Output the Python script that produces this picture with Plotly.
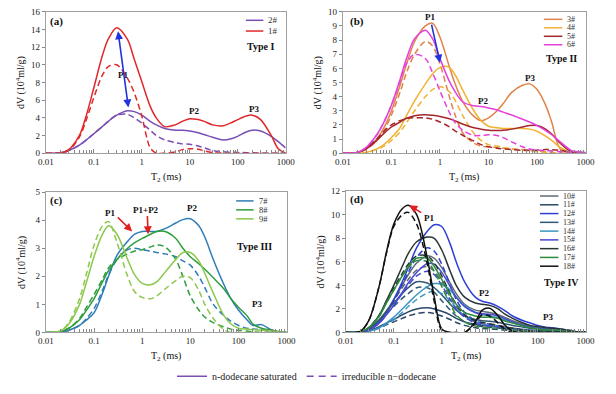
import math
import plotly.graph_objects as go

# ---------------- data ----------------
T2 = [0.01, 0.02, 0.03, 0.05, 0.07, 0.1, 0.15, 0.2, 0.3, 0.5, 0.7, 1, 1.5, 2, 3, 5, 7, 10,
      15, 20, 30, 50, 70, 100, 150, 200, 300, 500, 700, 1000]

# (a) Type I
A1_SAT = [0, 0, 0.4, 2.0, 4.3, 7.4, 11.0, 12.9, 14.2, 12.9, 10.6, 8.1, 5.3, 4.0, 3.0, 3.2, 3.6, 3.9,
          3.8, 3.6, 3.2, 3.1, 3.4, 3.8, 4.2, 4.3, 3.8, 2.0, 0.5, 0]
A1_IRR = [0, 0, 0.3, 1.8, 3.8, 6.3, 8.8, 9.8, 10.0, 8.5, 6.8, 4.2, 0.6, 0, 0, 0.15, 0.4, 0.5,
          0.45, 0.25, 0.05, 0, 0, 0, 0, 0, 0, 0, 0, 0]
A2_SAT = [0, 0.05, 0.3, 0.9, 1.5, 2.2, 3.0, 3.6, 4.3, 4.8, 4.7, 4.3, 3.6, 3.2, 2.8, 2.6, 2.6, 2.5,
          2.3, 2.1, 1.8, 1.5, 1.6, 1.9, 2.4, 2.6, 2.5, 1.9, 1.3, 0.6]
A2_IRR = [0, 0.05, 0.3, 0.9, 1.5, 2.2, 3.0, 3.6, 4.3, 4.4, 4.0, 3.4, 2.6, 2.0, 1.5, 1.2, 1.05, 1.0,
          0.8, 0.6, 0.3, 0.15, 0.1, 0.08, 0.05, 0.03, 0, 0, 0, 0]

# (b) Type II
B3_SAT = [0, 0.05, 0.3, 1.0, 1.8, 3.0, 4.8, 6.2, 7.9, 9.0, 9.2, 8.2, 6.3, 5.0, 3.6, 2.6, 2.3, 2.5,
          3.0, 3.5, 4.3, 4.8, 4.9, 4.5, 3.4, 2.2, 0.3, 0, 0, 0]
B3_IRR = [0, 0.05, 0.25, 0.9, 1.6, 2.7, 4.3, 5.6, 7.0, 7.9, 7.6, 6.3, 4.2, 2.8, 1.4, 0.7, 0.5, 0.45,
          0.4, 0.35, 0.3, 0.25, 0.2, 0.15, 0.1, 0.05, 0, 0, 0, 0]
B4_SAT = [0, 0, 0.05, 0.3, 0.6, 1.1, 1.8, 2.6, 3.7, 4.9, 5.6, 6.05, 6.1, 5.6, 4.4, 3.0, 2.3, 1.9,
          1.8, 1.75, 1.75, 1.75, 1.7, 1.55, 1.2, 0.9, 0.4, 0.05, 0, 0]
B4_IRR = [0, 0, 0.05, 0.25, 0.5, 0.9, 1.5, 2.1, 3.0, 4.0, 4.5, 4.7, 4.4, 3.8, 2.6, 1.4, 0.9, 0.6,
          0.5, 0.4, 0.3, 0.2, 0.15, 0.1, 0.05, 0, 0, 0, 0, 0]
B5_SAT = [0, 0.05, 0.3, 0.9, 1.4, 1.85, 2.2, 2.45, 2.65, 2.72, 2.68, 2.6, 2.45, 2.3, 2.05, 1.8, 1.7, 1.62,
          1.6, 1.62, 1.7, 1.85, 1.95, 1.95, 1.7, 1.35, 0.7, 0.1, 0, 0]
B5_IRR = [0, 0.05, 0.35, 1.0, 1.55, 2.0, 2.3, 2.45, 2.5, 2.5, 2.4, 2.2, 1.9, 1.6, 1.25, 0.85, 0.6, 0.45,
          0.35, 0.3, 0.25, 0.2, 0.2, 0.2, 0.25, 0.25, 0.2, 0.05, 0, 0]
B6_SAT = [0, 0.05, 0.4, 1.3, 2.2, 3.4, 5.2, 6.6, 8.1, 8.7, 8.1, 6.7, 5.2, 4.4, 3.6, 3.35, 3.3, 3.2,
          3.05, 2.9, 2.7, 2.4, 2.2, 1.95, 1.6, 1.3, 0.8, 0.2, 0.1, 0.05]
B6_IRR = [0, 0.05, 0.4, 1.3, 2.2, 3.4, 5.1, 6.3, 7.0, 6.7, 5.7, 4.4, 3.0, 2.2, 1.6, 1.25, 1.25, 1.3,
          1.25, 1.1, 0.8, 0.45, 0.3, 0.22, 0.18, 0.15, 0.1, 0.05, 0, 0]

# (c) Type III
C7_SAT = [0, 0.02, 0.08, 0.25, 0.45, 0.7, 1.4, 2.0, 2.75, 3.25, 3.5, 3.6, 3.6, 3.6, 3.7, 3.9, 4.02, 4.05,
          3.8, 3.4, 2.6, 1.7, 1.2, 0.8, 0.45, 0.25, 0.28, 0.08, 0.02, 0]
C7_IRR = [0, 0.02, 0.08, 0.25, 0.5, 0.85, 1.5, 2.05, 2.6, 2.95, 3.0, 2.95, 2.9, 2.85, 2.8, 2.7, 2.55, 2.4,
          2.0, 1.6, 1.0, 0.6, 0.4, 0.25, 0.15, 0.12, 0.1, 0.03, 0, 0]
C8_SAT = [0, 0.03, 0.15, 0.45, 0.8, 1.2, 1.8, 2.2, 2.6, 3.0, 3.2, 3.35, 3.5, 3.6, 3.6, 3.35, 3.0, 2.7,
          2.45, 2.25, 1.95, 1.55, 1.2, 0.9, 0.6, 0.3, 0.15, 0.08, 0.03, 0]
C8_IRR = [0, 0.03, 0.15, 0.5, 0.9, 1.35, 1.9, 2.3, 2.6, 2.8, 2.9, 2.95, 3.05, 3.12, 3.05, 2.6, 2.0, 1.3,
          0.8, 0.55, 0.35, 0.2, 0.12, 0.08, 0.05, 0.02, 0, 0, 0, 0]
C9_SAT = [0, 0.05, 0.3, 1.0, 1.8, 2.7, 3.5, 3.8, 3.5, 2.6, 2.05, 1.75, 1.7, 1.8, 2.15, 2.6, 2.85, 2.85,
          2.55, 2.1, 1.4, 0.6, 0.3, 0.15, 0.12, 0.1, 0.08, 0.05, 0.02, 0]
C9_IRR = [0, 0.05, 0.35, 1.2, 2.1, 3.1, 3.8, 3.95, 3.2, 2.0, 1.45, 1.25, 1.2, 1.3, 1.55, 1.85, 2.0, 1.95,
          1.5, 1.0, 0.5, 0.1, 0, 0, 0, 0, 0, 0, 0, 0]

# (d) Type IV
D10_SAT = [0, 0.03, 0.25, 1.0, 1.8, 2.8, 4.0, 4.9, 5.9, 6.5, 6.3, 5.5, 4.2, 3.3, 2.4, 1.9, 1.8, 1.7,
           1.5, 1.3, 1.0, 0.7, 0.5, 0.4, 0.3, 0.28, 0.25, 0.1, 0.03, 0]
D10_IRR = [0, 0.03, 0.25, 1.0, 1.8, 2.7, 3.8, 4.5, 5.3, 5.6, 5.2, 4.3, 3.0, 2.2, 1.4, 0.9, 0.75, 0.65,
           0.5, 0.4, 0.3, 0.2, 0.12, 0.08, 0.05, 0.03, 0, 0, 0, 0]
D11_SAT = [0, 0.02, 0.15, 0.5, 0.8, 1.1, 1.5, 1.75, 2.0, 2.1, 2.0, 1.8, 1.5, 1.2, 0.9, 0.7, 0.6, 0.55,
           0.5, 0.45, 0.35, 0.25, 0.2, 0.15, 0.12, 0.1, 0.08, 0.03, 0, 0]
D11_IRR = [0, 0.02, 0.12, 0.4, 0.65, 0.9, 1.2, 1.4, 1.6, 1.7, 1.6, 1.4, 1.1, 0.85, 0.6, 0.4, 0.33, 0.3,
           0.25, 0.2, 0.15, 0.1, 0.07, 0.05, 0.03, 0.02, 0, 0, 0, 0]
D12_SAT = [0, 0.02, 0.2, 0.9, 1.7, 2.8, 4.3, 5.5, 7.2, 8.6, 9.15, 9.0, 7.5, 6.0, 4.3, 3.0, 2.65, 2.5,
           2.2, 1.9, 1.4, 1.0, 0.8, 0.6, 0.45, 0.4, 0.3, 0.15, 0.05, 0]
D12_IRR = [0, 0.02, 0.2, 0.9, 1.7, 2.7, 4.1, 5.1, 6.4, 7.2, 6.9, 5.8, 4.0, 2.8, 1.7, 1.0, 0.8, 0.7,
           0.55, 0.45, 0.3, 0.2, 0.15, 0.1, 0.05, 0.03, 0, 0, 0, 0]
D13_SAT = [0, 0.05, 0.35, 1.1, 1.8, 2.5, 3.3, 3.8, 4.3, 4.2, 3.8, 3.2, 2.4, 1.9, 1.4, 1.1, 1.0, 0.95,
           0.85, 0.75, 0.6, 0.45, 0.35, 0.28, 0.22, 0.2, 0.15, 0.05, 0, 0]
D13_IRR = [0, 0.05, 0.35, 1.0, 1.6, 2.2, 2.9, 3.3, 3.8, 3.8, 3.4, 2.7, 1.9, 1.4, 0.9, 0.6, 0.5, 0.45,
           0.38, 0.3, 0.22, 0.15, 0.1, 0.07, 0.04, 0.02, 0, 0, 0, 0]
D14_SAT = [0, 0.01, 0.1, 0.4, 0.8, 1.3, 2.0, 2.5, 3.2, 3.9, 4.15, 4.1, 3.6, 3.0, 2.3, 1.7, 1.5, 1.4,
           1.25, 1.1, 0.85, 0.6, 0.45, 0.35, 0.28, 0.25, 0.2, 0.08, 0.02, 0]
D14_IRR = [0, 0.01, 0.1, 0.35, 0.7, 1.1, 1.7, 2.2, 2.8, 3.35, 3.5, 3.3, 2.7, 2.1, 1.4, 0.9, 0.7, 0.6,
           0.5, 0.4, 0.3, 0.2, 0.13, 0.08, 0.05, 0.03, 0, 0, 0, 0]
D15_SAT = [0, 0.02, 0.2, 0.8, 1.5, 2.3, 3.4, 4.2, 5.1, 5.85, 5.8, 5.1, 3.9, 3.0, 2.2, 1.7, 1.6, 1.55,
           1.4, 1.2, 0.9, 0.6, 0.45, 0.35, 0.25, 0.2, 0.15, 0.05, 0, 0]
D15_IRR = [0, 0.02, 0.2, 0.8, 1.5, 2.3, 3.3, 4.0, 4.8, 5.2, 4.9, 4.0, 2.8, 2.0, 1.3, 0.8, 0.65, 0.55,
           0.45, 0.35, 0.25, 0.15, 0.1, 0.07, 0.04, 0.02, 0, 0, 0, 0]
D16_SAT = [0, 0.05, 0.4, 1.5, 2.7, 4.0, 5.6, 6.7, 7.7, 8.1, 8.0, 7.0, 5.2, 4.0, 3.0, 2.5, 2.4, 2.3,
           2.0, 1.6, 1.2, 0.8, 0.6, 0.5, 0.4, 0.35, 0.3, 0.15, 0.05, 0]
D16_IRR = [0, 0.05, 0.4, 1.5, 2.6, 3.8, 5.0, 5.8, 6.5, 6.5, 5.9, 4.8, 3.3, 2.4, 1.5, 1.0, 0.85, 0.75,
           0.6, 0.5, 0.35, 0.2, 0.15, 0.1, 0.05, 0.03, 0, 0, 0, 0]
D17_SAT = [0, 0.05, 0.4, 1.4, 2.5, 3.6, 4.8, 5.6, 6.3, 6.3, 5.6, 4.5, 3.2, 2.4, 1.7, 1.4, 1.3, 1.3,
           1.2, 1.0, 0.8, 0.55, 0.4, 0.3, 0.22, 0.2, 0.15, 0.05, 0, 0]
D17_IRR = [0, 0.05, 0.4, 1.4, 2.5, 3.6, 4.8, 5.5, 6.1, 6.0, 5.2, 3.9, 2.4, 1.5, 0.9, 0.55, 0.45, 0.4,
           0.35, 0.3, 0.2, 0.12, 0.08, 0.05, 0.03, 0.02, 0, 0, 0, 0]
D18_SAT = [0, 0.1, 1.0, 4.0, 6.8, 9.2, 10.5, 10.8, 10.0, 6.3, 3.0, 0.3, 0, 0, 0, 0.9, 1.9, 2.05,
           1.4, 0.7, 0.1, 0, 0, 0, 0, 0, 0, 0, 0, 0]
D18_IRR = [0, 0.1, 1.0, 4.0, 6.7, 9.0, 10.0, 10.2, 9.2, 5.8, 2.6, 0.2, 0, 0, 0, 0.8, 1.5, 1.4,
           0.8, 0.3, 0, 0, 0, 0, 0, 0, 0, 0, 0, 0]

X_TICKS = [0.01, 0.1, 1, 10, 100, 1000]
X_TICK_TEXT = ["0.01", "0.1", "1", "10", "100", "1000"]

# ---------------- figure ----------------
W, H = 616, 394
FONT = "Liberation Serif, Times New Roman, serif"
PURPLE = "#7A4FB5"
DASH = "6px,3.5px"

fig = go.Figure()

def px(x, y):
    return x / W, 1 - y / H

def add(ax, name, y_sat, y_irr, color):
    xa = "x" if ax == 1 else f"x{ax}"
    ya = "y" if ax == 1 else f"y{ax}"
    fig.add_trace(go.Scatter(x=T2, y=y_irr, xaxis=xa, yaxis=ya, mode="lines", name=name + " irr",
                             line=dict(color=color, width=1.5, dash=DASH, shape="spline", smoothing=0.9),
                             showlegend=False, hoverinfo="skip"))
    fig.add_trace(go.Scatter(x=T2, y=y_sat, xaxis=xa, yaxis=ya, mode="lines", name=name,
                             line=dict(color=color, width=1.5, shape="spline", smoothing=0.9),
                             showlegend=False, hoverinfo="skip"))

panels = {
    1: [("2#", A2_SAT, A2_IRR, PURPLE), ("1#", A1_SAT, A1_IRR, "#E0282A")],
    2: [("3#", B3_SAT, B3_IRR, "#E0834A"), ("4#", B4_SAT, B4_IRR, "#F2B233"),
        ("5#", B5_SAT, B5_IRR, "#A3262A"), ("6#", B6_SAT, B6_IRR, "#E640DD")],
    3: [("7#", C7_SAT, C7_IRR, "#2F7DB8"), ("8#", C8_SAT, C8_IRR, "#2E9E3C"),
        ("9#", C9_SAT, C9_IRR, "#8CC84B")],
    4: [("10#", D10_SAT, D10_IRR, "#5F6B75"), ("11#", D11_SAT, D11_IRR, "#2B4868"),
        ("12#", D12_SAT, D12_IRR, "#2E3FD3"), ("13#", D13_SAT, D13_IRR, "#2F5675"),
        ("14#", D14_SAT, D14_IRR, "#3A95C2"), ("15#", D15_SAT, D15_IRR, "#4A48D0"),
        ("16#", D16_SAT, D16_IRR, "#2B3535"), ("17#", D17_SAT, D17_IRR, "#2A8C3C"),
        ("18#", D18_SAT, D18_IRR, "#111111")],
}
for ax, items in panels.items():
    for name, ys, yi, c in items:
        add(ax, name, ys, yi, c)

# bottom legend entries
fig.add_trace(go.Scatter(x=[None], y=[None], mode="lines", name="n-dodecane saturated",
                         line=dict(color=PURPLE, width=1.5)))
fig.add_trace(go.Scatter(x=[None], y=[None], mode="lines", name="irreducible n\u2212dodecane",
                         line=dict(color=PURPLE, width=1.5, dash="7px,5px")))

# axes
boxes = {  # left, right, top, bottom in px
    1: (39, 286, 7, 152),
    2: (345, 595, 7, 152),
    3: (39, 287, 192, 336),
    4: (348, 595, 191, 336),
}
yranges = {1: (16, 2), 2: (10, 1), 3: (5, 1), 4: (12, 2)}
minor_vals = [k * 10 ** d for d in range(-2, 3) for k in range(2, 10)]
layout = {}
for ax, (l, r, t, b) in boxes.items():
    sx = "xaxis" if ax == 1 else f"xaxis{ax}"
    sy = "yaxis" if ax == 1 else f"yaxis{ax}"
    ya = "y" if ax == 1 else f"y{ax}"
    xa = "x" if ax == 1 else f"x{ax}"
    layout[sx] = dict(domain=[l / W, r / W], anchor=ya, type="log", range=[-2, 3],
                      tickvals=X_TICKS, ticktext=X_TICK_TEXT, ticks="inside", ticklen=4,
                      tickcolor="#888", showline=True, mirror=True, linecolor="#A0A0A0", linewidth=1,
                      showgrid=False, zeroline=False,
                      minor=dict(tickvals=minor_vals, ticks="inside", ticklen=3, tickcolor="#888", showgrid=False),
                      tickfont=dict(family=FONT, size=9, color="#222"))
    ymax, dt = yranges[ax]
    layout[sy] = dict(domain=[1 - b / H, 1 - t / H], anchor=xa, range=[0, ymax], dtick=dt,
                      ticks="outside", ticklen=3, tickcolor="#888",
                      showline=True, mirror=True, linecolor="#A0A0A0", linewidth=1,
                      showgrid=False, zeroline=False,
                      tickfont=dict(family=FONT, size=9, color="#222"))
fig.update_layout(**layout)

ann = []
shapes = []

def text(x, y, s, size=9, bold=False, anchor="center", color="#111", angle=0):
    X, Y = px(x, y)
    ann.append(dict(x=X, y=Y, xref="paper", yref="paper", text=f"<b>{s}</b>" if bold else s,
                    showarrow=False, xanchor=anchor, yanchor="middle", textangle=angle,
                    font=dict(family=FONT, size=size, color=color)))

# axis titles
for ax, (l, r, t, b) in boxes.items():
    text((l + r) / 2, b + 25, "T<sub>2</sub> (ms)", size=10)
    text(l - 26, (t + b) / 2, "dV (10<sup>4</sup>ml/g)", size=10, angle=-90)

# panel tags
text(50, 17, "(a)", size=11, bold=True)
text(360, 17, "(b)", size=11, bold=True)
text(50, 201, "(c)", size=11, bold=True)
text(359, 200, "(d)", size=11, bold=True)
text(260, 43, "Type I", size=10, bold=True)
text(570, 55, "Type II", size=10, bold=True)
text(254, 248, "Type III", size=10, bold=True)
text(570, 285, "Type IV", size=10, bold=True)

# custom in-panel legends
def leg(x0, x1, y, color, label, size):
    X0, Y = px(x0, y)
    X1, _ = px(x1, y)
    shapes.append(dict(type="line", xref="paper", yref="paper", x0=X0, x1=X1, y0=Y, y1=Y,
                       line=dict(color=color, width=1.5)))
    text(x1 + 3, y, label, size=size, anchor="left", color="#333")

for i, (name, _, _, c) in enumerate(panels[1]):
    leg(245, 263, 15.7 + i * 11, c, name, 9)
for i, (name, _, _, c) in enumerate(panels[2]):
    leg(552, 571, 14.7 + i * 8.7, c, name, 8)
for i, (name, _, _, c) in enumerate(panels[3]):
    leg(235, 253, 201 + i * 9.2, c, name, 8.5)
for i, (name, _, _, c) in enumerate(panels[4]):
    leg(548, 567, 196 + i * 9, c, name, 8)

# data-anchored peak labels and arrows (log axes use log10 positions)
def lab(ax, x, y, s):
    xa = "x" if ax == 1 else f"x{ax}"
    ya = "y" if ax == 1 else f"y{ax}"
    ann.append(dict(x=math.log10(x), y=y, xref=xa, yref=ya, text=f"<b>{s}</b>", showarrow=False,
                    font=dict(family=FONT, size=9, color="#111")))

def arrow(ax, x0, y0, x1, y1, color, both=False):
    xa = "x" if ax == 1 else f"x{ax}"
    ya = "y" if ax == 1 else f"y{ax}"
    ann.append(dict(x=math.log10(x1), y=y1, ax=math.log10(x0), ay=y0, xref=xa, yref=ya,
                    axref=xa, ayref=ya, text="", showarrow=True, arrowhead=2, arrowsize=1,
                    arrowwidth=1.6, arrowcolor=color, arrowside="end+start" if both else "end"))

lab(1, 0.41, 8.9, "P1"); lab(1, 12.4, 4.8, "P2"); lab(1, 220, 5.05, "P3")
arrow(1, 0.53, 5.0, 0.32, 13.8, "#2233DD", both=True)
lab(2, 0.63, 9.6, "P1"); lab(2, 7.7, 3.7, "P2"); lab(2, 70, 5.35, "P3")
arrow(2, 0.66, 9.2, 1.0, 6.4, "#2233DD")
lab(3, 0.21, 4.24, "P1"); lab(3, 1.18, 4.35, "P1+P2"); lab(3, 10.8, 4.42, "P2"); lab(3, 240, 1.0, "P3")
arrow(3, 0.29, 4.15, 0.62, 3.6, "#E02020")
arrow(3, 1.28, 4.2, 1.33, 3.5, "#E02020")
lab(4, 0.54, 9.7, "P1"); lab(4, 7.5, 3.35, "P2"); lab(4, 168, 1.3, "P3")
arrow(4, 0.40, 10.1, 0.21, 10.8, "#E02020")

fig.update_layout(
    width=W, height=H, margin=dict(l=0, r=0, t=0, b=0),
    paper_bgcolor="white", plot_bgcolor="white",
    annotations=ann, shapes=shapes,
    showlegend=True,
    legend=dict(orientation="h", x=0.5, xanchor="center", y=1 - 381 / H, yanchor="middle",
                font=dict(family=FONT, size=10, color="#222"), bgcolor="rgba(0,0,0,0)",
                itemwidth=30, tracegroupgap=0),
    font=dict(family=FONT),
)

fig.write_html("out.html", config={"displayModeBar": False},
               post_script="document.body.style.margin='0px';")
